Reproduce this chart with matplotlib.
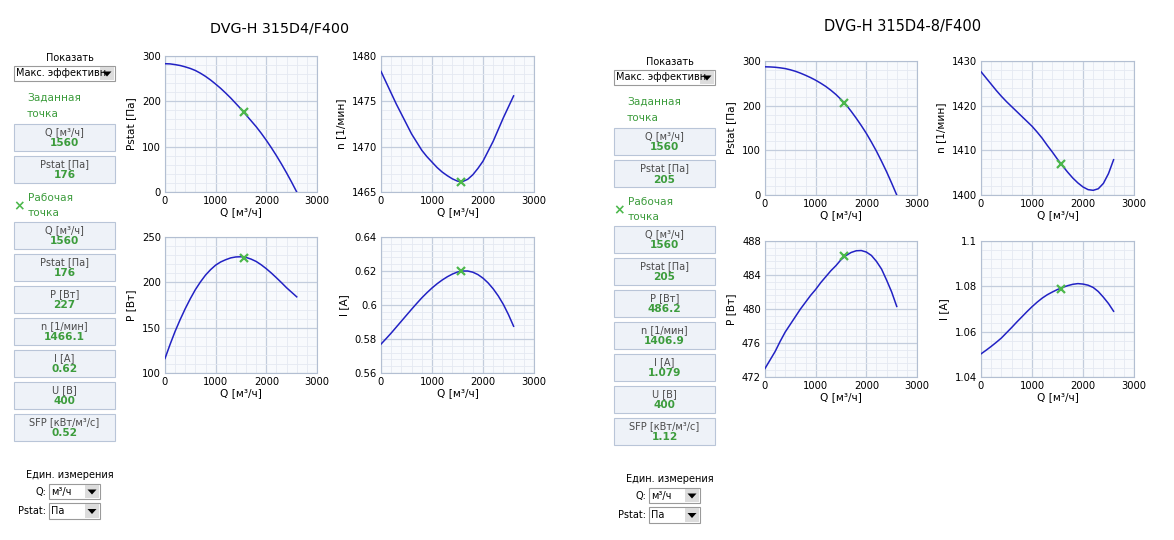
"""Fan performance curves for two DVG-H units, drawn as a dashboard screenshot."""

import matplotlib

matplotlib.use("Agg")
import matplotlib.pyplot as plt
from matplotlib.patches import Rectangle, Polygon
from matplotlib.ticker import AutoMinorLocator, MultipleLocator, FuncFormatter

plt.rcParams.update({
    "font.family": "DejaVu Sans",
    "font.size": 7.2,
    "axes.linewidth": 0.8,
})

W, H = 1174, 540

# airflow sample points, m3/h
Q = list(range(0, 2700, 100))

# DVG-H 315D4/F400
L_PSTAT = [283, 282.6, 281, 279, 276, 272.5, 268, 262, 255, 247, 238, 228.5, 218, 207,
           195, 183, 170, 157, 144, 129.5, 114, 97.5, 80, 61.5, 42, 21.5, 0]
L_N = [1478.3, 1477.1, 1475.9, 1474.7, 1473.6, 1472.5, 1471.4, 1470.5, 1469.6, 1468.9,
       1468.3, 1467.7, 1467.2, 1466.8, 1466.45, 1466.2, 1466.15, 1466.4, 1466.9, 1467.6,
       1468.4, 1469.5, 1470.6, 1471.9, 1473.2, 1474.4, 1475.6]
L_P = [116, 131.5, 146, 159, 171, 182, 192, 200.5, 208, 214, 219, 222.5, 225, 227, 228,
       228.2, 227.5, 225.6, 223, 219.3, 215, 210.2, 205, 199.6, 194, 189, 184]
L_I = [0.577, 0.5802, 0.5835, 0.5870, 0.5905, 0.5940, 0.5975, 0.6009, 0.6042, 0.6072,
       0.6100, 0.6125, 0.6147, 0.6166, 0.6182, 0.6194, 0.6200, 0.6200, 0.6193, 0.6179,
       0.6158, 0.6130, 0.6095, 0.6053, 0.6003, 0.5943, 0.5875]
L_OP = {"q": 1560, "pstat": 176, "n": 1466.1, "p": 227, "i": 0.62}

# DVG-H 315D4-8/F400
R_PSTAT = [287, 286.7, 286, 284.7, 283, 280.3, 277, 272.8, 268, 262.8, 257, 250.3, 243,
           234.5, 225, 214, 202, 187.5, 172, 155.5, 138, 118.5, 98, 75.5, 52, 26.5, 0]
R_N = [1427.6, 1426.2, 1424.8, 1423.4, 1422.1, 1420.9, 1419.8, 1418.7, 1417.6, 1416.5,
       1415.4, 1414.1, 1412.7, 1411.1, 1409.6, 1408.0, 1406.5, 1405.1, 1403.8, 1402.7,
       1401.8, 1401.2, 1401.05, 1401.4, 1402.6, 1404.8, 1407.9]
R_P = [473.0, 474.0, 475.0, 476.2, 477.3, 478.2, 479.1, 480.0, 480.8, 481.6, 482.3, 483.1,
       483.8, 484.5, 485.1, 485.8, 486.3, 486.65, 486.85, 486.88, 486.7, 486.3, 485.6,
       484.7, 483.4, 482.0, 480.3]
R_I = [1.0502, 1.0518, 1.0535, 1.0553, 1.0572, 1.0595, 1.0618, 1.0642, 1.0665, 1.0688,
       1.0710, 1.0730, 1.0748, 1.0763, 1.0775, 1.0786, 1.0795, 1.0803, 1.0809, 1.0812,
       1.0810, 1.0805, 1.0795, 1.0777, 1.0752, 1.0724, 1.0690]
R_OP = {"q": 1560, "pstat": 205, "n": 1406.9, "p": 486.2, "i": 1.079}

TITLES = ["DVG-H 315D4/F400", "DVG-H 315D4-8/F400"]
SET_LABELS = ["Q [м³/ч]", "Pstat [Па]"]
L_SET = ["1560", "176"]
R_SET = ["1560", "205"]
WORK_LABELS = ["Q [м³/ч]", "Pstat [Па]", "P [Вт]", "n [1/мин]", "I [A]", "U [В]", "SFP [кВт/м³/с]"]
L_WORK = ["1560", "176", "227", "1466.1", "0.62", "400", "0.52"]
R_WORK = ["1560", "205", "486.2", "1406.9", "1.079", "400", "1.12"]

BLUE = "#2222c4"
GREEN = "#3c9c3c"
MARK = "#4cb84c"
BOX_FILL = "#eef2f8"
BOX_EDGE = "#b9c5d8"
GRID = "#c3cddd"
MINOR = "#e4e9f2"
SPINE = "#b3bfd2"

fig = plt.figure(figsize=(W / 100, H / 100), dpi=100)


def fx(x):
    return x / W


def fy(y):
    return 1 - y / H


def rect(x0, y0, x1, y1, **kw):
    fig.patches.append(Rectangle((fx(x0), fy(y1)), (x1 - x0) / W, (y1 - y0) / H,
                                 transform=fig.transFigure, figure=fig, **kw))


def dropdown(x0, y0, x1, y1, text):
    rect(x0, y0, x1, y1, facecolor="white", edgecolor="#9a9a9a", linewidth=0.8)
    fig.text(fx(x0 + 2), fy((y0 + y1) / 2), text, fontsize=7, va="center", ha="left")
    rect(x1 - 15, y0 + 1, x1 - 1, y1 - 1, facecolor="#dcdcdc", edgecolor="none", zorder=3)
    cx, cy = x1 - 8, (y0 + y1) / 2
    tri = Polygon([(fx(cx - 4.5), fy(cy - 2)), (fx(cx + 4.5), fy(cy - 2)), (fx(cx), fy(cy + 3))],
                  closed=True, transform=fig.transFigure, facecolor="black", edgecolor="none",
                  zorder=4)
    fig.patches.append(tri)


def value_box(x0, y0, label, value):
    rect(x0, y0, x0 + 101, y0 + 27, facecolor=BOX_FILL, edgecolor=BOX_EDGE, linewidth=0.8)
    fig.text(fx(x0 + 50.5), fy(y0 + 8), label, fontsize=7, color="#4a4a4a", ha="center", va="center")
    fig.text(fx(x0 + 50.5), fy(y0 + 19.5), value, fontsize=7.6, color=GREEN, fontweight="bold",
             ha="center", va="center")


def sidebar(x0, dy, set_vals, work_vals):
    fig.text(fx(x0 + 56), fy(58 + dy), "Показать", fontsize=7, ha="center", va="center")
    dropdown(x0, 66 + dy, x0 + 101, 81 + dy, "Макс. эффективн")
    fig.text(fx(x0 + 13), fy(98 + dy), "Заданная", fontsize=7.6, color=GREEN, va="center")
    fig.text(fx(x0 + 13), fy(114 + dy), "точка", fontsize=7.6, color=GREEN, va="center")
    value_box(x0, 124 + dy, SET_LABELS[0], set_vals[0])
    value_box(x0, 156 + dy, SET_LABELS[1], set_vals[1])
    fig.text(fx(x0 + 5), fy(206 + dy), "×", fontsize=10, color=MARK, fontweight="bold",
             ha="center", va="center")
    fig.text(fx(x0 + 14), fy(198 + dy), "Рабочая", fontsize=7.6, color=GREEN, va="center")
    fig.text(fx(x0 + 14), fy(213 + dy), "точка", fontsize=7.6, color=GREEN, va="center")
    for k, (lab, val) in enumerate(zip(WORK_LABELS, work_vals)):
        value_box(x0, 222 + dy + 32 * k, lab, val)
    fig.text(fx(x0 + 56), fy(475 + dy), "Един. измерения", fontsize=7, ha="center", va="center")
    fig.text(fx(x0 + 32), fy(492 + dy), "Q:", fontsize=7, ha="right", va="center")
    dropdown(x0 + 35, 484 + dy, x0 + 86, 499 + dy, "м³/ч")
    fig.text(fx(x0 + 32), fy(511 + dy), "Pstat:", fontsize=7, ha="right", va="center")
    dropdown(x0 + 35, 503 + dy, x0 + 86, 519 + dy, "Па")


def curve_panel(box, y, yop, ylim, ystep, ylabel):
    x0, y0, x1, y1 = box
    ax = fig.add_axes([fx(x0), fy(y1), (x1 - x0) / W, (y1 - y0) / H])
    ax.set_facecolor("#f8fafd")
    ax.plot(Q, y, color=BLUE, linewidth=1.1, zorder=3)
    ax.plot([1560], [yop], marker="x", color=MARK, markersize=6, markeredgewidth=1.6,
            linestyle="none", zorder=4)
    ax.set_xlim(0, 3000)
    ax.set_ylim(*ylim)
    ax.xaxis.set_major_locator(MultipleLocator(1000))
    ax.yaxis.set_major_locator(MultipleLocator(ystep))
    ax.xaxis.set_minor_locator(AutoMinorLocator(5))
    ax.yaxis.set_minor_locator(AutoMinorLocator(5))
    ax.yaxis.set_major_formatter(FuncFormatter(lambda v, _: f"{round(v, 4):g}"))
    ax.grid(which="major", color=GRID, linewidth=0.9)
    ax.grid(which="minor", color=MINOR, linewidth=0.6)
    ax.set_axisbelow(True)
    ax.tick_params(which="both", length=0, pad=3, labelsize=7.2)
    for s in ax.spines.values():
        s.set_color(SPINE)
    ax.set_xlabel("Q [м³/ч]", fontsize=7.6, labelpad=1)
    ax.set_ylabel(ylabel, fontsize=7.6, labelpad=4)
    return ax


# left unit
fig.text(fx(280), fy(28), TITLES[0], fontsize=10.3, ha="center", va="center")
sidebar(14, 0, L_SET, L_WORK)
curve_panel((165, 56, 317, 192), L_PSTAT, L_OP["pstat"], (0, 300), 100, "Pstat [Па]")
curve_panel((381, 56, 534, 192), L_N, L_OP["n"], (1465, 1480), 5, "n [1/мин]")
curve_panel((165, 237, 317, 373), L_P, L_OP["p"], (100, 250), 50, "P [Вт]")
curve_panel((381, 237, 534, 373), L_I, L_OP["i"], (0.56, 0.64), 0.02, "I [A]")

# right unit
fig.text(fx(903), fy(27), TITLES[1], fontsize=10.5, ha="center", va="center")
sidebar(614, 4, R_SET, R_WORK)
curve_panel((765, 61, 917, 195), R_PSTAT, R_OP["pstat"], (0, 300), 100, "Pstat [Па]")
curve_panel((981, 61, 1134, 195), R_N, R_OP["n"], (1400, 1430), 10, "n [1/мин]")
curve_panel((765, 241, 917, 377), R_P, R_OP["p"], (472, 488), 4, "P [Вт]")
curve_panel((981, 241, 1134, 377), R_I, R_OP["i"], (1.04, 1.10), 0.02, "I [A]")

fig.savefig("out.png", dpi=100)
